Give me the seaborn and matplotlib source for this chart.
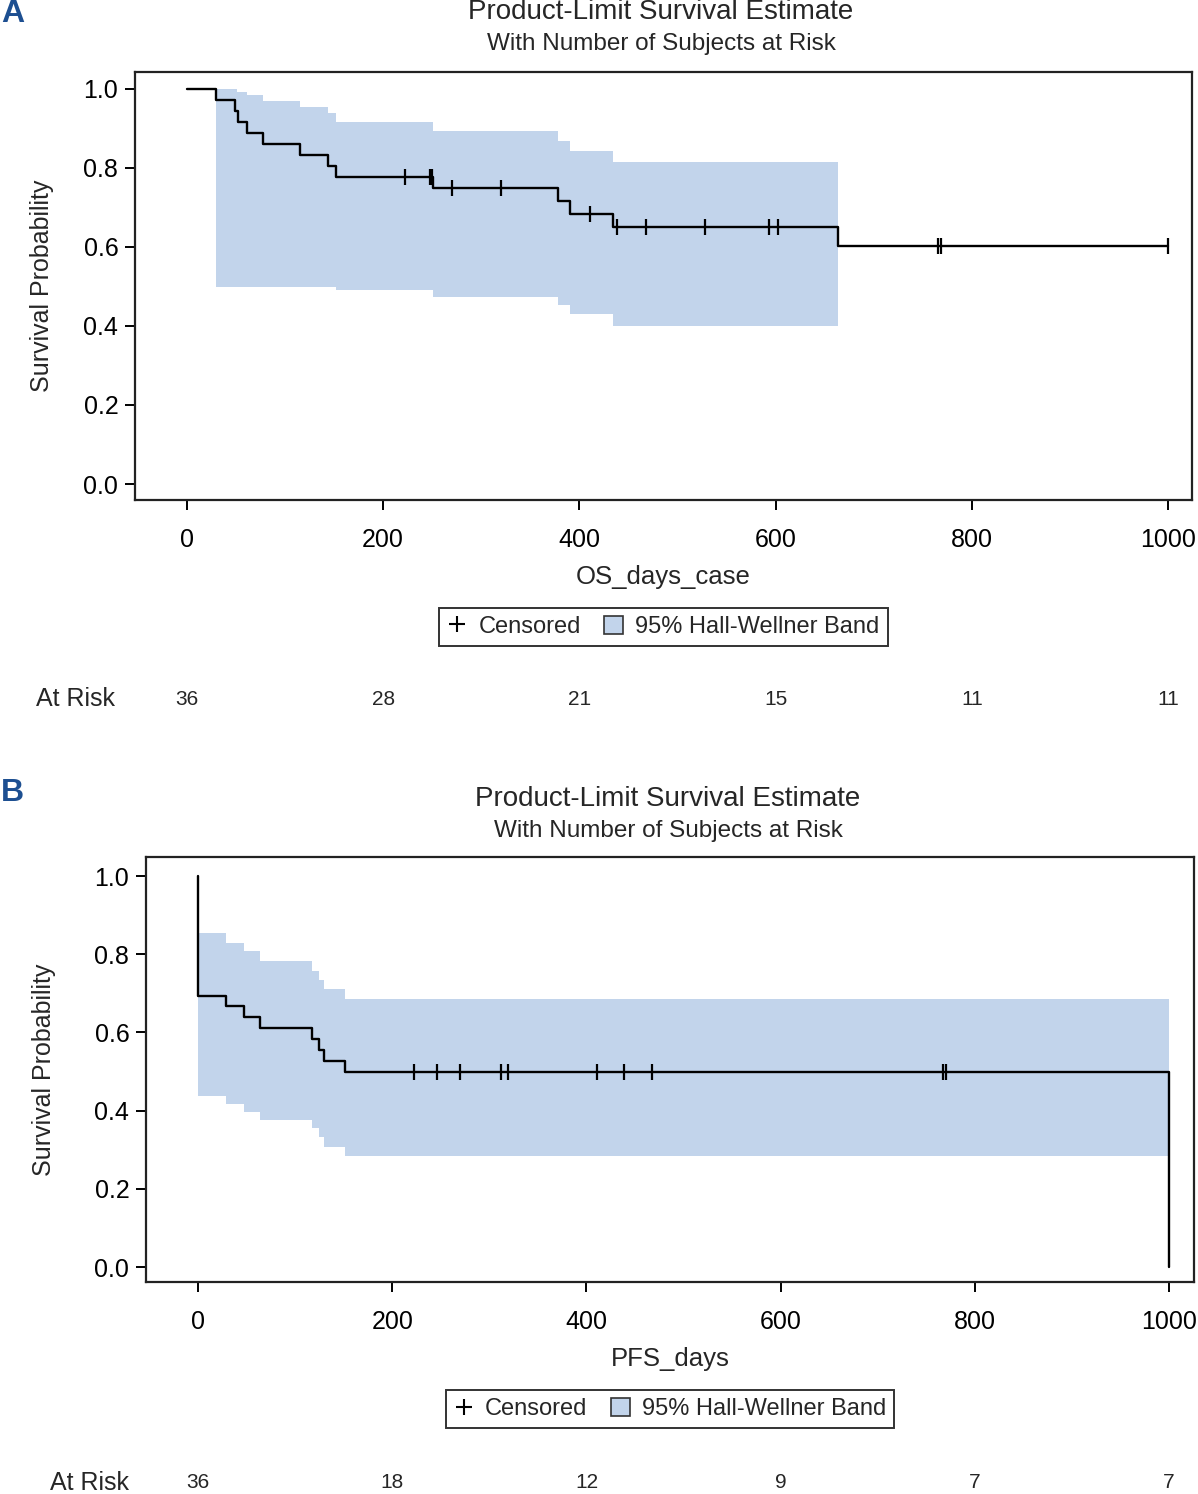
import numpy as np
import matplotlib.pyplot as plt
import seaborn as sns
from matplotlib.lines import Line2D
from matplotlib.patches import Patch
from matplotlib.transforms import blended_transform_factory

# Panel A: overall survival (OS_days_case)
os_time = [0, 29.6, 49, 52, 61, 77, 115, 144, 152, 251, 378, 390, 434, 664, 1000]
os_surv = [1.0, 0.972, 0.944, 0.917, 0.889, 0.861, 0.833, 0.806, 0.778, 0.750,
           0.716, 0.684, 0.651, 0.603, 0.603]
os_cens = [222, 248, 250, 270, 320, 411, 438, 468, 528, 593, 602, 766, 769, 1000]
os_band_t = [29.6, 51, 61, 77, 115, 144, 152, 251, 378, 390, 434, 664]
os_band_hi = [1.0, 0.993, 0.985, 0.970, 0.955, 0.938, 0.916, 0.894, 0.868, 0.844, 0.816, 0.816]
os_band_lo = [0.498, 0.498, 0.498, 0.498, 0.498, 0.498, 0.491, 0.474, 0.453, 0.430, 0.400, 0.400]
os_risk = [36, 28, 21, 15, 11, 11]

# Panel B: progression free survival (PFS_days)
pfs_time = [0, 0, 28.8, 47.6, 63.8, 117, 125, 129.7, 151, 1000]
pfs_surv = [1.0, 0.694, 0.667, 0.639, 0.611, 0.583, 0.556, 0.528, 0.500, 0.0]
pfs_cens = [222, 246, 270, 312, 319, 411, 439, 468, 767, 770]
pfs_band_t = [0, 28.8, 47.6, 63.8, 117, 125, 129.7, 151, 1000]
pfs_band_hi = [0.855, 0.830, 0.808, 0.783, 0.758, 0.734, 0.710, 0.685, 0.685]
pfs_band_lo = [0.438, 0.418, 0.397, 0.376, 0.355, 0.332, 0.308, 0.284, 0.284]
pfs_risk = [36, 18, 12, 9, 7, 7]

risk_days = [0, 200, 400, 600, 800, 1000]

band_color = '#c2d4eb'
W, H = 1198, 1494

sns.set_style("ticks")
plt.rcParams['font.family'] = ['Liberation Sans Narrow', 'Liberation Sans', 'DejaVu Sans']

fig = plt.figure(figsize=(W / 100, H / 100), dpi=100)


def fx(px):
    return px / W


def fy(py):
    return 1 - py / H


def surv_at(times, surv, t):
    idx = np.searchsorted(times, t, side='right') - 1
    return [surv[i] for i in idx]


def km_panel(box, time, surv, cens, bt, bhi, blo, risk, xlabel, xlim, ylim,
             letter, letter_y, title_x, title_y, ylab_x, risk_y, risk_lbl_x):
    left, top, right, bottom = box
    ax = fig.add_axes([fx(left), fy(bottom), fx(right - left), (bottom - top) / H])

    ax.fill_between(bt, blo, bhi, step='post', color=band_color, lw=0)
    sns.lineplot(x=time, y=surv, drawstyle='steps-post', estimator=None, sort=False,
                 color='black', lw=1.7, ax=ax)
    sns.scatterplot(x=cens, y=surv_at(time, surv, cens), marker='|', s=120,
                    color='black', linewidth=1.6, ax=ax, zorder=5)

    ax.set_xlim(xlim)
    ax.set_ylim(ylim)
    ax.set_xticks([0, 200, 400, 600, 800, 1000])
    ax.set_yticks([0.0, 0.2, 0.4, 0.6, 0.8, 1.0])
    ax.set_yticklabels(['0.0', '0.2', '0.4', '0.6', '0.8', '1.0'])
    ax.tick_params(axis='both', direction='out', length=7, width=1.4,
                   labelsize=18, colors='black')
    ax.tick_params(axis='x', pad=13)
    ax.tick_params(axis='y', pad=5)
    for sp in ax.spines.values():
        sp.set_visible(True)
        sp.set_linewidth(1.6)
        sp.set_color('#222222')
    ax.set_xlabel('')
    ax.set_ylabel('')

    # titles and labels
    fig.text(fx(title_x), fy(title_y), 'Product-Limit Survival Estimate',
             ha='center', va='center', fontsize=20)
    fig.text(fx(title_x), fy(title_y + 32), 'With Number of Subjects at Risk',
             ha='center', va='center', fontsize=17.5)
    fig.text(fx(1), fy(letter_y), letter, ha='left', va='center', fontsize=23,
             fontweight='bold', color='#1d4f91', family=['Liberation Sans', 'DejaVu Sans'])
    fig.text(fx(ylab_x), (fy(bottom) + fy(top)) / 2, 'Survival Probability',
             rotation=90, ha='center', va='center', fontsize=18)
    fig.text((fx(left) + fx(right)) / 2, fy(bottom + 77), xlabel,
             ha='center', va='center', fontsize=18.5)

    # legend
    handles = [Line2D([], [], marker='+', linestyle='none', color='black',
                      markersize=11, markeredgewidth=1.5),
               Patch(facecolor=band_color, edgecolor='#333333', linewidth=1.2)]
    leg = ax.legend(handles, ['Censored', '95% Hall-Wellner Band'], ncol=2,
                    loc='center', bbox_to_anchor=(0.5, -(127 / (bottom - top))),
                    fontsize=17, frameon=True, fancybox=False, handlelength=0.8,
                    handleheight=0.8, handletextpad=0.5, columnspacing=1.0,
                    borderpad=0.35, borderaxespad=0)
    leg.get_frame().set_edgecolor('black')
    leg.get_frame().set_linewidth(1.4)

    # at-risk row
    trans = blended_transform_factory(ax.transData, fig.transFigure)
    fig.text(fx(risk_lbl_x), fy(risk_y), 'At Risk', ha='left', va='center', fontsize=18)
    for d, n in zip(risk_days, risk):
        ax.text(d, fy(risk_y), str(n), transform=trans, ha='center', va='center',
                fontsize=15, clip_on=False)
    return ax


km_panel((135, 72, 1192, 500), os_time, os_surv, os_cens, os_band_t, os_band_hi,
         os_band_lo, os_risk, 'OS_days_case', (-53, 1024.5), (-0.0405, 1.043),
         'A', 14, 661, 12, 42, 699, 36)

km_panel((146, 857, 1194, 1282), pfs_time, pfs_surv, pfs_cens, pfs_band_t, pfs_band_hi,
         pfs_band_lo, pfs_risk, 'PFS_days', (-53.6, 1025.7), (-0.038, 1.0486),
         'B', 793, 668, 799, 44, 1483, 50)

plt.savefig('out.png', dpi=100)
